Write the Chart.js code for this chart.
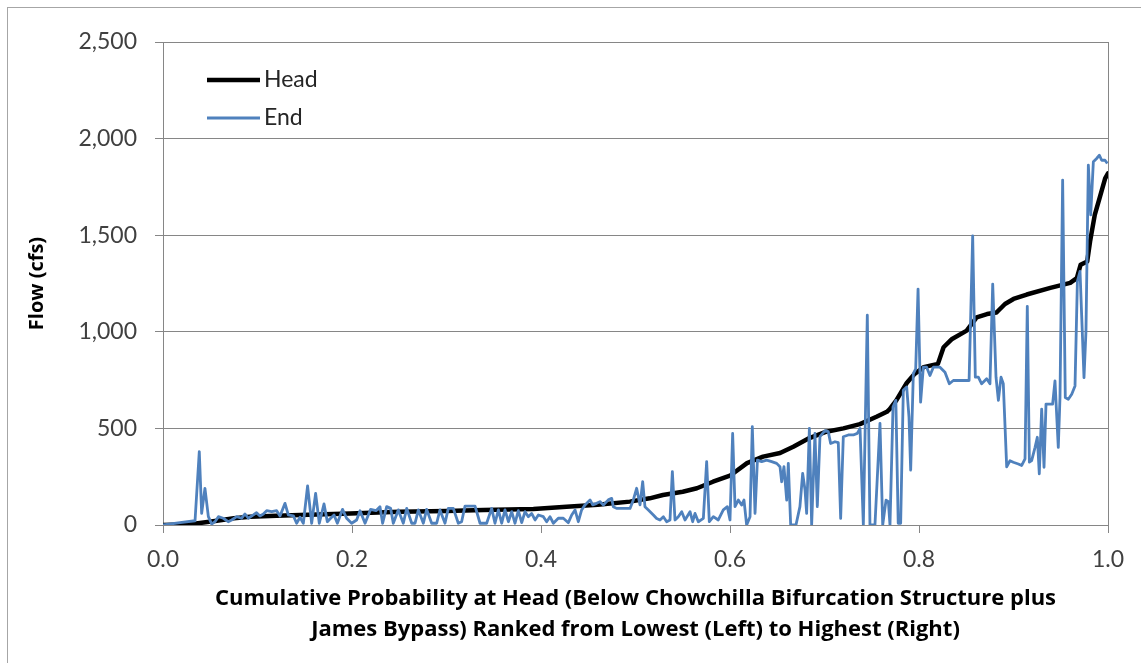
<!DOCTYPE html>
<html>
<head>
<meta charset="utf-8">
<script src="https://cdn.jsdelivr.net/npm/chart.js@4.4.1/dist/chart.umd.min.js"></script>
<style>
  html, body { margin: 0; padding: 0; background: #fff; }
  #wrap { width: 1141px; height: 663px; }
</style>
</head>
<body>
<div id="wrap"><canvas id="flow-chart" width="1141" height="663"></canvas></div>
<script>
// Head of reach (cumulative probability, flow in cfs)
const headX = [0, 0.02, 0.035, 0.045, 0.057, 0.075, 0.092, 0.12, 0.145, 0.198, 0.25, 0.3, 0.339, 0.392, 0.427,
    0.46, 0.494, 0.515, 0.529, 0.55, 0.565, 0.582, 0.6, 0.618, 0.635, 0.653, 0.667, 0.684, 0.702, 0.72,
    0.7375, 0.755, 0.766, 0.769, 0.776, 0.787, 0.795, 0.805, 0.82, 0.826, 0.835, 0.8505, 0.861, 0.872,
    0.882, 0.891, 0.9, 0.914, 0.939, 0.96, 0.967, 0.971, 0.978, 0.981, 0.986, 0.991, 0.997, 1.0];
const headY = [0, 3, 8, 14, 22, 35, 43, 48, 52, 60, 69, 72, 78, 83, 95,
    105, 121, 138, 155, 172, 190, 224, 255, 320, 354, 373, 405, 450, 483, 500,
    522, 560, 586, 600, 645, 735, 780, 817, 834, 920, 963, 1006, 1075, 1092,
    1100, 1144, 1170, 1193, 1227, 1253, 1278, 1347, 1364, 1467, 1605, 1691, 1794, 1820];

// End of reach, same ranking
const endX = [0, 0.018, 0.0339, 0.0384, 0.0409, 0.0444, 0.048, 0.0515, 0.055, 0.0586, 0.0638, 0.069, 0.0727,
    0.078, 0.0832, 0.0868, 0.0903, 0.0956, 0.099, 0.1026, 0.1062, 0.1097, 0.115, 0.1203, 0.1238, 0.1291,
    0.1326, 0.138, 0.1414, 0.145, 0.1485, 0.153, 0.1573, 0.1615, 0.1654, 0.1704, 0.1739, 0.1774, 0.181,
    0.1845, 0.19, 0.1943, 0.1996, 0.2049, 0.2085, 0.2138, 0.2197, 0.2254, 0.2296, 0.2324, 0.2367, 0.2409,
    0.2437, 0.249,
    0.2543, 0.2579, 0.2632, 0.2667, 0.2702, 0.2755, 0.279, 0.2843, 0.2896, 0.2931, 0.2984, 0.3019, 0.3072,
    0.3125, 0.316, 0.3196, 0.3302, 0.3355, 0.3425, 0.3478, 0.3513, 0.3549, 0.3584, 0.3619, 0.3655, 0.369,
    0.3725, 0.376, 0.3796, 0.3831, 0.3866, 0.3901, 0.3937, 0.3972, 0.4025, 0.406, 0.4095, 0.4131, 0.4183,
    0.4236, 0.4289, 0.4325, 0.436, 0.4395, 0.443, 0.4466, 0.4519, 0.4547, 0.4589, 0.4624, 0.466, 0.4712,
    0.4748, 0.4765, 0.48, 0.4871, 0.4942, 0.4977, 0.5012, 0.5048, 0.5076, 0.51, 0.5136,
    0.5189, 0.5224, 0.5259, 0.5295, 0.533, 0.5365, 0.539, 0.5418, 0.5453, 0.5489, 0.5524, 0.5577, 0.5605,
    0.563, 0.5665, 0.5718, 0.5753, 0.5781, 0.5824, 0.5876, 0.5929, 0.5972, 0.6, 0.6028, 0.6053, 0.6088,
    0.6123, 0.6148, 0.6176, 0.6212, 0.6236, 0.6265, 0.629, 0.6335, 0.6388, 0.6441, 0.6494,
    0.6529, 0.6547, 0.6571, 0.66, 0.6617, 0.6642, 0.6698, 0.674, 0.6769, 0.6794, 0.6811, 0.684, 0.6864,
    0.6899, 0.6924, 0.6952, 0.7005, 0.704, 0.7065, 0.7111, 0.7146, 0.7171, 0.7199, 0.7252, 0.7305, 0.7347,
    0.7376, 0.7411, 0.7453, 0.7481, 0.7534, 0.7587, 0.7616, 0.7651, 0.7676,
    0.7693, 0.7725, 0.7755, 0.778, 0.7806, 0.7834, 0.787, 0.7894, 0.7912, 0.794, 0.7965, 0.799, 0.8017,
    0.8046, 0.8081, 0.8116, 0.8152, 0.8222, 0.8275, 0.8321, 0.8363, 0.8434, 0.853, 0.8568, 0.8596, 0.8628,
    0.8663, 0.8716, 0.8751, 0.878, 0.8815, 0.884, 0.8868, 0.8892, 0.8928,
    0.8963, 0.8998, 0.9051, 0.9087, 0.9122, 0.9146, 0.9168, 0.9192, 0.9228, 0.9252, 0.9273, 0.9298, 0.9323,
    0.9344, 0.9379, 0.9414, 0.9439, 0.9474, 0.9492, 0.952, 0.9548, 0.958, 0.9616, 0.9651, 0.9676, 0.9704,
    0.9721, 0.9746, 0.9767, 0.9792, 0.9817, 0.9845, 0.988, 0.9909, 0.9933, 0.9968, 0.9993];
const endY = [0, 12, 22, 380, 60, 190, 43, 5, 17, 43, 35, 17, 26,
    43, 35, 57, 35, 52, 64, 47, 57, 74, 69, 74, 47, 112,
    52, 47, 9, 40, 9, 202, 9, 164, 9, 109, 17, 35, 52,
    9, 81, 35, 9, 26, 74, 9, 81, 74, 95, 9, 95, 86,
    9, 78,
    9, 86, 9, 9, 78, 9, 81, 9, 9, 78, 9, 86, 86,
    9, 17, 98, 98, 9, 9, 86, 9, 78, 9, 78, 17, 69,
    9, 74, 12, 69, 43, 60, 26, 52, 43, 17, 43, 9, 35,
    35, 12, 52, 78, 17, 78, 104, 130, 104, 112, 121, 104, 130,
    138, 95, 86, 86, 86, 130, 190, 104, 224, 95, 78,
    52, 34, 26, 43, 17, 26, 276, 26, 43, 69, 26, 69, 17,
    60, 17, 34, 328, 17, 43, 26, 78, 95, 26, 474, 95, 129,
    103, 129, 0, 43, 509, 60, 336, 328, 336, 328, 319,
    302, 224, 302, 129, 319, 0, 0, 95, 267, 181, 60, 500, 0,
    474, 95, 457, 488, 483, 422, 431, 426, 34, 457, 466, 466, 474,
    500, 0, 1086, 0, 0, 526, 0, 129, 121,
    0, 610, 645, 9, 9, 697, 714, 560, 284, 783, 808, 1221, 636,
    817, 817, 774, 817, 817, 791, 731, 748, 748, 748, 1496, 765, 765,
    731, 757, 731, 1247, 765, 645, 765, 731, 301,
    333, 325, 316, 308, 342, 1132, 325, 333, 402, 454, 265, 600, 299,
    626, 626, 626, 746, 402, 660, 1785, 660, 651, 677, 720, 1261, 1313,
    1089, 763, 1004, 1863, 1605, 1880, 1897, 1914, 1888, 1888, 1871];

const seriesNames = ['Head', 'End'];
const yTicks = [0, 500, 1000, 1500, 2000, 2500];
const xTicks = [0, 0.2, 0.4, 0.6, 0.8, 1.0];

const FONT = 'Lato';
const TITLE_FONT = 'Open Sans';
const GRID = '#868686';

const toPoints = (xs, ys) => xs.map((x, i) => ({ x: x, y: ys[i] }));

// white page plus the thin chart frame (only top/left edges are inside the picture)
const framePlugin = {
    id: 'frame',
    beforeDraw(chart) {
        const ctx = chart.ctx;
        ctx.save();
        ctx.fillStyle = '#fff';
        ctx.fillRect(0, 0, chart.width, chart.height);
        ctx.strokeStyle = '#a6a6a6';
        ctx.lineWidth = 1;
        ctx.strokeRect(7.5, 7.5, chart.width + 20, chart.height + 20);
        ctx.restore();
    }
};

// legend sits inside the plot, top-left
const insideLegend = {
    id: 'insideLegend',
    afterDatasetsDraw(chart) {
        const ctx = chart.ctx;
        const area = chart.chartArea;
        ctx.save();
        ctx.font = '23px ' + FONT;
        ctx.textBaseline = 'middle';
        ctx.fillStyle = '#262626';
        chart.data.datasets.forEach((ds, i) => {
            const y = area.top + 38 + i * 38;
            ctx.strokeStyle = ds.borderColor;
            ctx.lineWidth = ds.borderWidth;
            ctx.beginPath();
            ctx.moveTo(area.left + 44, y);
            ctx.lineTo(area.left + 97, y);
            ctx.stroke();
            ctx.fillText(ds.label, area.left + 101, y);
        });
        ctx.restore();
    }
};

const ctx = document.getElementById('flow-chart').getContext('2d');
const chart = new Chart(ctx, {
    type: 'line',
    data: {
        datasets: [{
            label: seriesNames[0],
            data: toPoints(headX, headY),
            borderColor: '#000000',
            borderWidth: 4.5,
            borderJoinStyle: 'round',
            borderCapStyle: 'round',
            pointRadius: 0,
            tension: 0,
            order: 1
        }, {
            label: seriesNames[1],
            data: toPoints(endX, endY),
            borderColor: '#4f81bd',
            borderWidth: 2.8,
            borderJoinStyle: 'round',
            pointRadius: 0,
            tension: 0,
            order: 0
        }]
    },
    options: {
        responsive: false,
        devicePixelRatio: 1,
        animation: false,
        layout: {
            padding: { top: 42, right: 33, left: 0, bottom: 0 }
        },
        plugins: {
            legend: { display: false },
            tooltip: { enabled: false }
        },
        scales: {
            x: {
                type: 'linear',
                min: 0,
                max: 1,
                afterFit: (scale) => { scale.height = 138; },
                afterBuildTicks: (scale) => { scale.ticks = xTicks.map(v => ({ value: v })); },
                grid: {
                    color: (c) => c.tick && c.tick.value === 1 ? GRID : 'rgba(0,0,0,0)',
                    tickColor: GRID,
                    tickLength: 8,
                    drawOnChartArea: true
                },
                border: { color: GRID, width: 1 },
                ticks: {
                    padding: 13,
                    color: '#404040',
                    font: { family: FONT, size: 23 },
                    maxRotation: 0,
                    callback: (v) => Number(v).toFixed(1)
                },
                title: {
                    display: true,
                    text: ['Cumulative Probability at Head (Below Chowchilla Bifurcation Structure plus',
                        'James Bypass) Ranked from Lowest (Left) to Highest (Right)'],
                    color: '#000',
                    font: { family: TITLE_FONT, size: 22, weight: 'bold', lineHeight: 1.41 },
                    padding: { top: 0, bottom: 18 }
                }
            },
            y: {
                min: 0,
                max: 2500,
                afterFit: (scale) => { scale.width = 163; },
                afterBuildTicks: (scale) => { scale.ticks = yTicks.map(v => ({ value: v })); },
                grid: {
                    color: GRID,
                    tickColor: GRID,
                    tickLength: 8
                },
                border: { color: GRID, width: 1 },
                ticks: {
                    padding: 18,
                    color: '#404040',
                    font: { family: FONT, size: 23 },
                    callback: (v) => Number(v).toLocaleString('en-US')
                },
                title: {
                    display: true,
                    text: 'Flow (cfs)',
                    color: '#000',
                    font: { family: TITLE_FONT, size: 20, weight: 'bold', lineHeight: 1.2 },
                    padding: { top: 25, bottom: 0 }
                }
            }
        }
    },
    plugins: [framePlugin, insideLegend]
});
</script>
</body>
</html>
